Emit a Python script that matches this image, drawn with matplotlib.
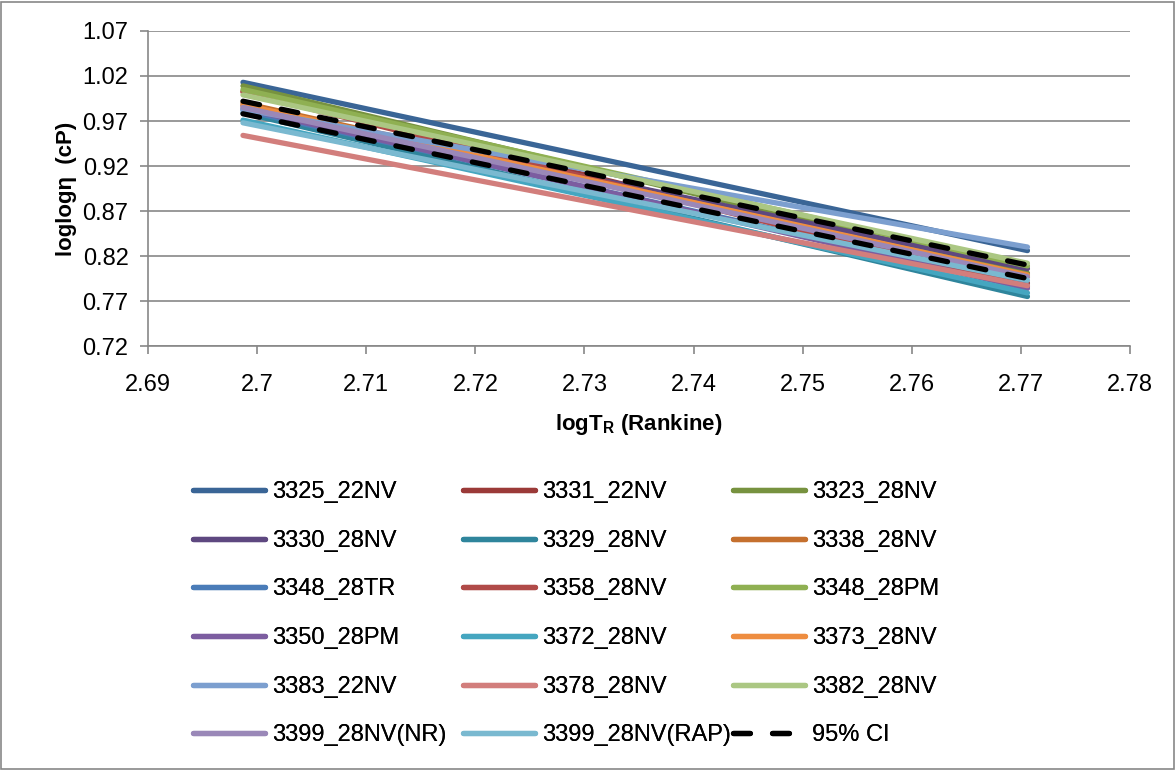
import numpy as np
import matplotlib.pyplot as plt
from matplotlib.patches import Rectangle

plt.rcParams['font.family'] = ['Liberation Sans', 'DejaVu Sans']
plt.rcParams['mathtext.fontset'] = 'custom'
plt.rcParams['mathtext.bf'] = 'Liberation Sans:bold'
plt.rcParams['mathtext.rm'] = 'Liberation Sans'

# log of temperature (Rankine) at the two ends of each fitted line
log_t = [2.6987, 2.7706]

names = ['3325_22NV', '3331_22NV', '3323_28NV',
         '3330_28NV', '3329_28NV', '3338_28NV',
         '3348_28TR', '3358_28NV', '3348_28PM',
         '3350_28PM', '3372_28NV', '3373_28NV',
         '3383_22NV', '3378_28NV', '3382_28NV',
         '3399_28NV(NR)', '3399_28NV(RAP)']

# loglog viscosity at each end, same order as names
loglog_visc = [
    [1.013, 0.826],
    [1.003, 0.790],
    [1.009, 0.801],
    [0.987, 0.806],
    [0.979, 0.775],
    [0.990, 0.797],
    [0.982, 0.787],
    [1.002, 0.786],
    [1.005, 0.809],
    [0.984, 0.784],
    [0.971, 0.779],
    [0.988, 0.799],
    [0.983, 0.830],
    [0.954, 0.787],
    [0.999, 0.812],
    [0.985, 0.797],
    [0.968, 0.793],
]

ci_upper = [0.992, 0.810]
ci_lower = [0.978, 0.795]

colors = ['#3A6596', '#9B3A38', '#77923F',
          '#5E4880', '#2F859C', '#C5702E',
          '#4A7CB8', '#B04A48', '#8FB052',
          '#7C5DA0', '#45A6C0', '#EE8D40',
          '#7C9FCF', '#D27E7C', '#ABC783',
          '#9A88B8', '#7AB9D0']

fig = plt.figure(figsize=(11.76, 7.71), dpi=100)
ax = fig.add_axes([0.1259, 0.5512, 0.835, 0.4086])

lines = []
for name, vals, c in zip(names, loglog_visc, colors):
    ln, = ax.plot(log_t, vals, color=c, lw=3.8, solid_capstyle='round', label=name)
    lines.append(ln)

dash = (0, (3.2, 4.2))
ci, = ax.plot(log_t, ci_upper, color='black', lw=3.8, ls=dash,
              dash_capstyle='round', label='95% CI')
ax.plot(log_t, ci_lower, color='black', lw=3.8, ls=dash, dash_capstyle='round')
lines.append(ci)

ax.set_xlim(2.69, 2.78)
ax.set_ylim(0.72, 1.07)
ax.set_xticks(np.arange(2.69, 2.7801, 0.01))
ax.set_xticklabels(['2.69', '2.7', '2.71', '2.72', '2.73', '2.74', '2.75', '2.76', '2.77', '2.78'])
ax.set_yticks(np.arange(0.72, 1.0701, 0.05))
ax.set_yticklabels(['0.72', '0.77', '0.82', '0.87', '0.92', '0.97', '1.02', '1.07'])

ax.grid(axis='y', color='#878787', lw=1.2)
ax.set_axisbelow(True)
for s in ['top', 'right']:
    ax.spines[s].set_visible(False)
for s in ['left', 'bottom']:
    ax.spines[s].set_color('#878787')
    ax.spines[s].set_linewidth(1.2)
ax.tick_params(axis='both', colors='#878787', labelcolor='black', labelsize=17,
               length=6, width=1.2, direction='out')
ax.tick_params(axis='x', pad=14)
ax.tick_params(axis='y', pad=8)

ax.set_ylabel('loglogη  (cP)', fontsize=16, fontweight='bold', labelpad=4)
ax.set_xlabel(r'logT$_\mathbf{R}$ (Rankine)', fontsize=16, fontweight='bold', labelpad=12)

# legend: three columns, row-major series order
col_x = [193, 463, 733]
for k in range(3):
    handles = lines[k::3]
    leg = fig.legend(handles=handles, labels=[h.get_label() for h in handles],
                     loc='upper left', bbox_to_anchor=((col_x[k] - 7) / 1176, 1 - 474 / 771),
                     frameon=False, fontsize=17, handlelength=3.05, handletextpad=0.3,
                     labelspacing=1.13, borderaxespad=0, borderpad=0.3)
    fig.add_artist(leg)

fig.add_artist(Rectangle((0.001, 0.002), 0.997, 0.996, transform=fig.transFigure,
                         fill=False, edgecolor='#878787', lw=1.2))

fig.savefig('out.png', dpi=100)
